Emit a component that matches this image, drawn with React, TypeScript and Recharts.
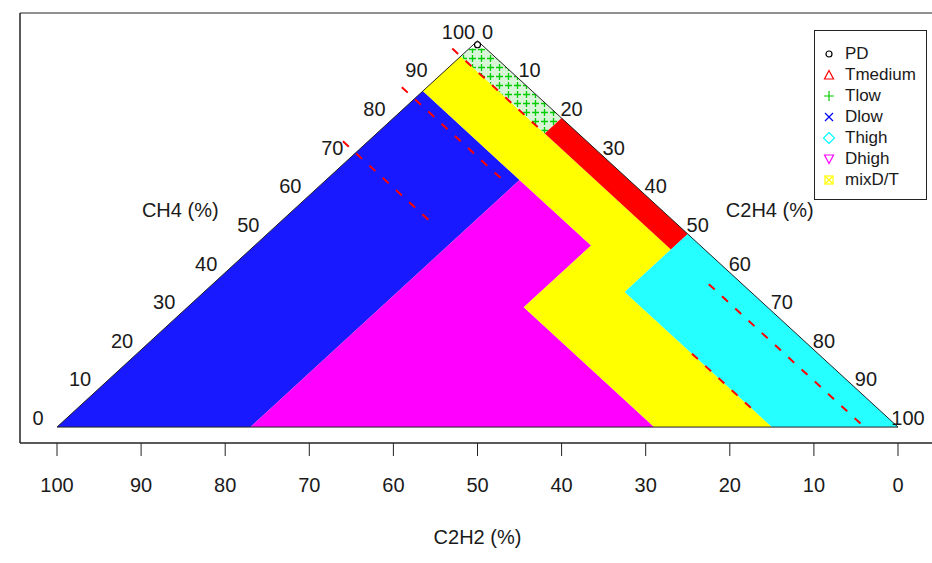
import { ScatterChart, Scatter, XAxis, YAxis, ReferenceArea } from 'recharts';

// ternary points are [CH4, C2H4, C2H2] in %
type Tern = [number, number, number];

// height of the CH4 corner on the chart's y scale
const APEX_Y = 97;

// Duval triangle zones
const t1Zone: Tern[] = [[98, 0, 2], [98, 2, 0], [80, 20, 0], [76, 20, 4], [96, 0, 4]];
const t2Zone: Tern[] = [[80, 20, 0], [50, 50, 0], [46, 50, 4], [76, 20, 4]];
const t3Zone: Tern[] = [[50, 50, 0], [0, 100, 0], [0, 85, 15], [35, 50, 15]];
const d1Zone: Tern[] = [[0, 0, 100], [0, 23, 77], [64, 23, 13], [87, 0, 13]];
const d2Zone: Tern[] = [[0, 23, 77], [0, 71, 29], [31, 40, 29], [47, 40, 13], [64, 23, 13]];
const dtZone: Tern[] = [
  [87, 0, 13], [96, 0, 4], [46, 50, 4], [35, 50, 15], [0, 85, 15],
  [0, 71, 29], [31, 40, 29], [47, 40, 13], [64, 23, 13],
];
const outline: Tern[] = [[0, 0, 100], [100, 0, 0], [0, 100, 0], [0, 0, 100]];
const pdPoints: Tern[] = [[99, 0.5, 0.5]];

// red dashed lines at constant C2H2, visible parts only (CH4 from -> to)
const dashC2H2 = [4, 4, 15, 15, 29];
const dashFrom = [98, 37, 88, 19, 74];
const dashTo = [76, 0, 64, 5, 52];

const c2h2Ticks = [0, 10, 20, 30, 40, 50, 60, 70, 80, 90, 100];
const edgeTicks = [0, 10, 20, 30, 40, 50, 60, 70, 80, 90, 100];
const yTicks = [0, 20, 40, 60, 80, 100];

const legendNames = ['PD', 'Tmedium', 'Tlow', 'Dlow', 'Thigh', 'Dhigh', 'mixD/T'];
const legendColors = ['#000000', '#FF0000', '#00CD00', '#0000FF', '#00FFFF', '#FF00FF', '#FFFF00'];

const TEXT = '#1a1a1a';

const toXY = ([ch4, , c2h2]: Tern) => ({ x: c2h2 + ch4 / 2, y: (ch4 * APEX_Y) / 100 });

const renderNone = () => <g />;

const zone = (key: string, pts: Tern[], color: string, opacity = 1) => (
  <Scatter
    key={key}
    data={pts.map(toXY)}
    shape={renderNone}
    line={{ fill: color, fillOpacity: opacity, stroke: 'none' }}
    legendType="none"
    isAnimationActive={false}
  />
);

const renderXTick = (props: any) => (
  <text x={props.x} y={props.y + 36} textAnchor="middle" fontSize={20} fill={TEXT}>
    {props.payload.value}
  </text>
);

const edgeLabel = (dx: number) => (props: any) => (
  <text x={props.cx + dx} y={props.cy - 9} dy="0.35em" textAnchor="middle" fontSize={20} fill={TEXT}>
    {props.payload.v}
  </text>
);

const titleLabel = (dx: number, text: string) => (props: any) => (
  <text x={props.cx + dx} y={props.cy - 24} dy="0.35em" textAnchor="middle" fontSize={20} fill={TEXT}>
    {text}
  </text>
);

const LegendSymbol = ({ index, color }: { index: number; color: string }) => {
  const common = { fill: 'none', stroke: color, strokeWidth: 1.2 };
  let el;
  if (index === 0) el = <circle cx={6} cy={6} r={3} {...common} />;
  else if (index === 1) el = <polygon points="6,1.5 10.5,10 1.5,10" {...common} />;
  else if (index === 2) el = <path d="M6 1 V11 M1 6 H11" {...common} />;
  else if (index === 3) el = <path d="M2 2 L10 10 M10 2 L2 10" {...common} />;
  else if (index === 4) el = <polygon points="6,0.5 11.5,6 6,11.5 0.5,6" {...common} />;
  else if (index === 5) el = <polygon points="1.5,2 10.5,2 6,10.5" {...common} />;
  else
    el = (
      <g {...common}>
        <rect x={2} y={2} width={8} height={8} />
        <path d="M2 2 L10 10 M10 2 L2 10" />
      </g>
    );
  return (
    <svg width={12} height={12} style={{ position: 'absolute', left: 8, top: 4.5 }}>
      {el}
    </svg>
  );
};

export default function App() {
  const leftLabels = edgeTicks.map((v) => ({ ...toXY([v, 0, 100 - v]), v }));
  const rightLabels = edgeTicks.map((v) => ({ ...toXY([100 - v, v, 0]), v }));

  return (
    <div
      style={{
        position: 'absolute',
        left: 0,
        top: 0,
        width: 932,
        height: 563,
        overflow: 'hidden',
        background: '#fff',
        fontFamily: '"Liberation Sans", Arial, sans-serif',
      }}
    >
      {/* plus-sign texture for the sparse Tlow zone */}
      <svg width={0} height={0} style={{ position: 'absolute' }}>
        <defs>
          <pattern id="tlowPlus" width={9} height={9} patternUnits="userSpaceOnUse">
            <rect width={9} height={9} fill="#d8f5d8" />
            <path d="M4.5 1 V8 M1 4.5 H8" stroke="#00CD00" strokeWidth={1.3} />
          </pattern>
        </defs>
      </svg>

      <ScatterChart width={935} height={563} margin={{ top: 13, right: 0, bottom: 0, left: 0 }}>
        <XAxis
          type="number"
          dataKey="x"
          domain={[-4.4, 104.4]}
          reversed
          allowDataOverflow
          ticks={c2h2Ticks}
          tickSize={13}
          tickMargin={0}
          tick={renderXTick}
          height={120}
          stroke="#222"
          label={{ value: 'C2H2 (%)', position: 'insideBottom', offset: 19, fontSize: 20, fill: TEXT }}
        />
        <YAxis
          type="number"
          dataKey="y"
          domain={[-4, 104]}
          allowDataOverflow
          ticks={yTicks}
          tick={false}
          tickSize={12}
          width={20}
          stroke="#222"
        />
        <ReferenceArea x1={-4.4} x2={104.4} y1={-4} y2={104} fill="none" stroke="#222" ifOverflow="visible" />

        {zone('d1', d1Zone, '#0000FF', 0.9)}
        {zone('d2', d2Zone, '#FF00FF')}
        {zone('dt', dtZone, '#FFFF00')}
        {zone('t1', t1Zone, 'url(#tlowPlus)')}
        {zone('t2', t2Zone, '#FF0000')}
        {zone('t3', t3Zone, '#00FFFF', 0.85)}

        <Scatter
          data={outline.map(toXY)}
          shape={renderNone}
          line={{ stroke: '#222', strokeWidth: 1, fill: 'none' }}
          isAnimationActive={false}
        />

        {dashC2H2.map((c, i) => (
          <Scatter
            key={`dash-${i}`}
            data={[toXY([dashFrom[i], 100 - dashFrom[i] - c, c]), toXY([dashTo[i], 100 - dashTo[i] - c, c])]}
            shape={renderNone}
            line={{ stroke: '#FF0000', strokeWidth: 2, strokeDasharray: '8 10', fill: 'none' }}
            isAnimationActive={false}
          />
        ))}

        <Scatter
          data={pdPoints.map(toXY)}
          shape={(p: any) => <circle cx={p.cx} cy={p.cy} r={3} fill="none" stroke="#000" strokeWidth={1.2} />}
          isAnimationActive={false}
        />

        <Scatter data={leftLabels} shape={edgeLabel(-19)} isAnimationActive={false} />
        <Scatter data={rightLabels} shape={edgeLabel(10)} isAnimationActive={false} />
        <Scatter data={[toXY([50, 0, 50])]} shape={titleLabel(-87, 'CH4 (%)')} isAnimationActive={false} />
        <Scatter data={[toXY([50, 50, 0])]} shape={titleLabel(82, 'C2H4 (%)')} isAnimationActive={false} />
      </ScatterChart>

      <div
        style={{
          position: 'absolute',
          left: 814,
          top: 30,
          width: 113,
          height: 170,
          boxSizing: 'border-box',
          border: '1px solid #222',
          paddingTop: 12,
          background: '#fff',
        }}
      >
        {legendNames.map((name, i) => (
          <div key={name} style={{ position: 'relative', height: 21, lineHeight: '21px', fontSize: 17, paddingLeft: 30, color: TEXT }}>
            <LegendSymbol index={i} color={legendColors[i]} />
            {name}
          </div>
        ))}
      </div>
    </div>
  );
}
